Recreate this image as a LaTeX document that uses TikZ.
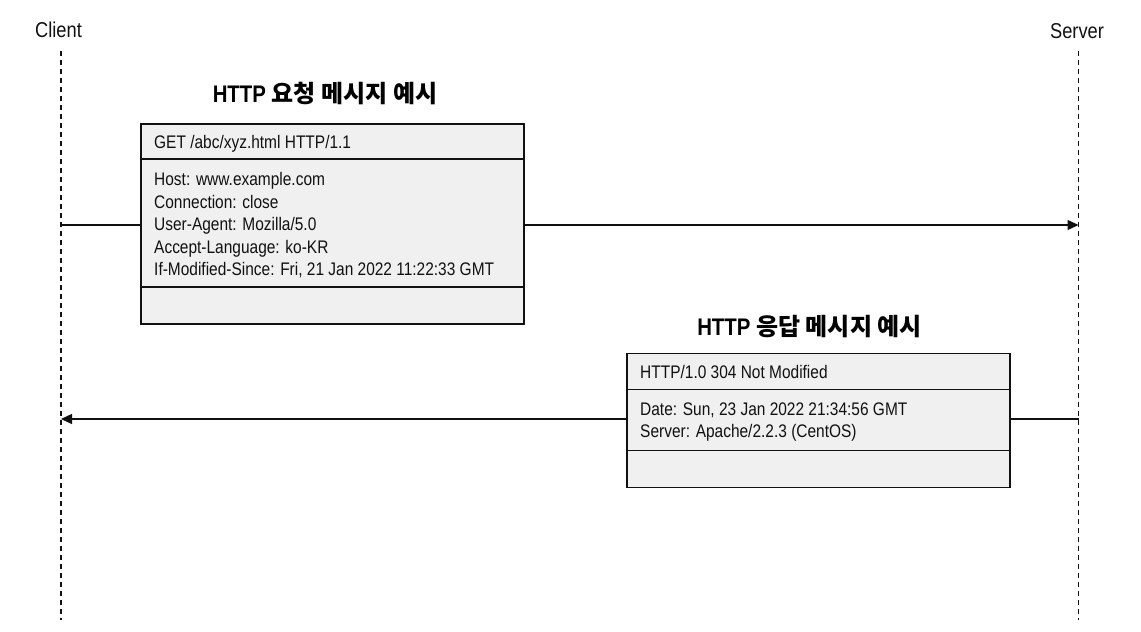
\documentclass[tikz,border=0pt]{standalone}
\usepackage{fontspec}
\setmainfont{Liberation Sans}[FakeStretch=0.85]
\newfontfamily\cjk{Noto Sans CJK KR}
\usetikzlibrary{arrows.meta}
\definecolor{boxgray}{HTML}{F0F0F0}
\definecolor{ink}{HTML}{111111}
\begin{document}
\begin{tikzpicture}[x=1pt,y=-1pt,
  lifeline/.style={draw=ink, line width=1.2pt, dash pattern=on 4.5pt off 4.5pt},
  msgbox/.style={draw=ink, line width=1.7pt, fill=boxgray, inner sep=0pt, anchor=north west},
  divider/.style={draw=ink, line width=1.7pt},
  msg/.style={draw=ink, line width=1.3pt},
  msgarrow/.style={msg, -{Triangle[length=11pt,width=10pt]}},
  txt/.style={anchor=base west, inner sep=0pt, text=ink, font=\fontsize{18.2}{22.5}\selectfont},
  actor/.style={anchor=base, inner sep=0pt, text=ink, font=\fontsize{21.5}{24}\selectfont},
  title/.style={anchor=base, inner sep=0pt, text=black, font=\fontsize{24}{27}\selectfont\bfseries}
]
\useasboundingbox (0,0) rectangle (1141,632);

% actors and lifelines
\node[actor] (client) at (58.5,37.5) {Client};
\node[actor] (server) at (1077,38) {Server};
\coordinate (ctop) at (61,51);
\coordinate (cbot) at (61,620);
\coordinate (stop) at (1078.5,51);
\coordinate (sbot) at (1078.5,620);
\draw[lifeline] (ctop) -- (cbot);
\draw[lifeline] (stop) -- (sbot);

% request
\node[title] (reqtitle) at (325,102) {HTTP {\cjk\bfseries 요청 메시지 예시}};
\node[msgbox, minimum width=383pt, minimum height=200pt] (req) at (140,123) {};
\draw[divider] (140,159) -- (523,159);
\draw[divider] (140,287) -- (523,287);
\node[txt] (reqh) at (154,148.5) {GET /abc/xyz.html HTTP/1.1};
\node[txt] (reqb1) at (154,185.5) {Host: www.example.com};
\node[txt] (reqb2) at (154,208) {Connection: close};
\node[txt] (reqb3) at (154,230.5) {User-Agent: Mozilla/5.0};
\node[txt] (reqb4) at (154,253) {Accept-Language: ko-KR};
\node[txt] (reqb5) at (154,275.5) {If-Modified-Since: Fri, 21 Jan 2022 11:22:33 GMT};

\coordinate (c1) at (61,225);
\coordinate (s1) at (1078.5,225);
\draw[msg] (c1) -- (c1 -| req.west);
\draw[msgarrow] (c1 -| req.east) -- (s1);

% response
\node[title] (restitle) at (809.5,335.5) {HTTP {\cjk\bfseries 응답 메시지 예시}};
\node[msgbox, minimum width=383pt, minimum height=134pt] (res) at (626,352.5) {};
\draw[divider] (626,389.5) -- (1009,389.5);
\draw[divider] (626,450.5) -- (1009,450.5);
\node[txt] (resh) at (640,378) {HTTP/1.0 304 Not Modified};
\node[txt] (resb1) at (640,415) {Date: Sun, 23 Jan 2022 21:34:56 GMT};
\node[txt] (resb2) at (640,437.5) {Server: Apache/2.2.3 (CentOS)};

\coordinate (s2) at (1078.5,419);
\coordinate (c2) at (61,419);
\draw[msg] (s2) -- (s2 -| res.east);
\draw[msgarrow] (s2 -| res.west) -- (c2);
\end{tikzpicture}
\end{document}
